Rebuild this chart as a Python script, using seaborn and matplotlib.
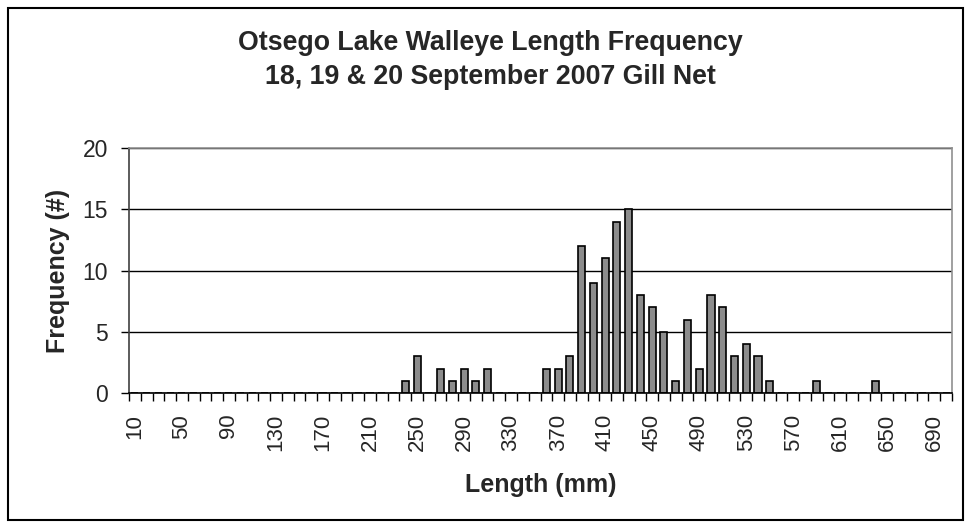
import numpy as np
import pandas as pd
import matplotlib.pyplot as plt
import seaborn as sns
from matplotlib.patches import Rectangle

sns.set_theme(style="white")
plt.rcParams['font.family'] = ['Liberation Sans', 'DejaVu Sans']

# length classes (mm) and counts
lengths = list(range(10, 710, 10))
counts = {240: 1, 250: 3, 270: 2, 280: 1, 290: 2, 300: 1, 310: 2,
          360: 2, 370: 2, 380: 3, 390: 12, 400: 9, 410: 11, 420: 14,
          430: 15, 440: 8, 450: 7, 460: 5, 470: 1, 480: 6, 490: 2,
          500: 8, 510: 7, 520: 3, 530: 4, 540: 3, 550: 1, 590: 1, 640: 1}
freq = [counts.get(l, 0) for l in lengths]

df = pd.DataFrame({'Length': [str(l) for l in lengths], 'Frequency': freq})

fig = plt.figure(figsize=(9.73, 5.29), dpi=100)
ax = fig.add_axes([129 / 973, 1 - 393 / 529, (952 - 129) / 973, (393 - 148) / 529])

sns.barplot(data=df, x='Length', y='Frequency', order=df['Length'], color='#8c8c8c',
            edgecolor='black', linewidth=1.2, width=0.6, saturation=1, ax=ax)

ax.set_xlim(-0.5, len(lengths) - 0.5)
ax.set_ylim(0, 20)
ax.set_yticks([0, 5, 10, 15, 20])
ax.yaxis.grid(True, color='black', linewidth=1)
ax.set_axisbelow(True)

# labels every 4th class, tick marks at every class boundary
ax.set_xticks(range(0, len(lengths), 4))
ax.set_xticklabels([str(l) for l in lengths[::4]], rotation=90, fontsize=16)
ax.set_xticks(np.arange(-0.5, len(lengths), 1), minor=True)
ax.tick_params(axis='x', which='major', length=0, pad=15)
ax.tick_params(axis='x', which='minor', length=6, width=1, color='black', direction='out', bottom=True)
ax.tick_params(axis='y', length=6, width=1, color='black', direction='out', left=True, labelsize=16.5, pad=9)

for side in ['top', 'right']:
    ax.spines[side].set_color('#909090')
    ax.spines[side].set_linewidth(1.2)
ax.spines['left'].set_color('#404040')
ax.spines['bottom'].set_color('black')
ax.spines['left'].set_linewidth(1.2)
ax.spines['bottom'].set_linewidth(1.2)

ax.set_xlabel('Length (mm)', fontsize=18, fontweight='bold')
ax.set_ylabel('Frequency (#)', fontsize=18, fontweight='bold')
ax.xaxis.set_label_coords(0.5, -0.325)
ax.yaxis.set_label_coords(-0.072, 0.5)

fig.text(490 / 973, 1 - 43 / 529, 'Otsego Lake Walleye Length Frequency', ha='center', va='center',
         fontsize=19.3, fontweight='bold')
fig.text(490 / 973, 1 - 77 / 529, '18, 19 & 20 September 2007 Gill Net', ha='center', va='center',
         fontsize=19.3, fontweight='bold')

fig.patches.append(Rectangle((8 / 973, 1 - 520 / 529), 955 / 973, 512 / 529, transform=fig.transFigure,
                             fill=False, edgecolor='black', linewidth=1.5))

fig.savefig('out.png', dpi=100)
